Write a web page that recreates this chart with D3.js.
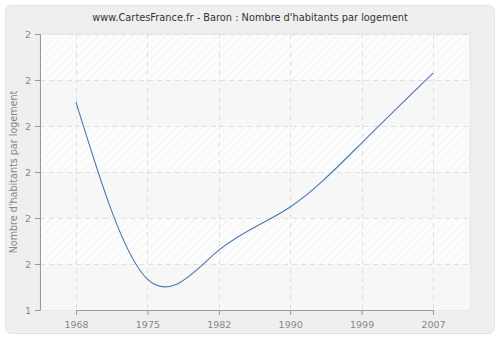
<!DOCTYPE html>
<html>
<head>
<meta charset="utf-8">
<script src="https://cdn.jsdelivr.net/npm/d3@7"></script>
<style>
  body { margin: 0; background: #fff; }
  svg { display: block; font-family: "DejaVu Sans", Verdana, sans-serif; }
</style>
</head>
<body>
<div id="chart"></div>
<script>
// data
var years = ["1968", "1975", "1982", "1990", "1999", "2007"];
var values = [1.852, 1.467, 1.530, 1.624, 1.763, 1.915];
var yTicks = [1.4, 1.5, 1.6, 1.7, 1.8, 1.9, 2.0];

var W = 500, H = 340;
var margin = {top: 34, right: 30, bottom: 30, left: 40},
    width = W - margin.left - margin.right,
    height = H - margin.top - margin.bottom;

var svg = d3.select("#chart")
  .append("svg")
    .attr("width", W)
    .attr("height", H);

var defs = svg.append("defs");
var pat = defs.append("pattern")
    .attr("id", "hatch")
    .attr("patternUnits", "userSpaceOnUse")
    .attr("width", 6).attr("height", 6)
    .attr("patternTransform", "rotate(45)");
pat.append("rect").attr("width", 6).attr("height", 6).attr("fill", "#fcfcfc");
pat.append("line")
    .attr("x1", 0).attr("y1", 0).attr("x2", 0).attr("y2", 6)
    .attr("stroke", "#ececec").attr("stroke-width", 1);

// outer panel
svg.append("rect")
    .attr("x", 5.5).attr("y", 5.5)
    .attr("width", 489).attr("height", 328)
    .attr("rx", 6)
    .attr("fill", "#efefef")
    .attr("stroke", "#e4e4e4");

svg.append("text")
    .attr("x", W / 2).attr("y", 21)
    .attr("text-anchor", "middle")
    .attr("font-size", 9.8)
    .attr("fill", "#333")
    .text("www.CartesFrance.fr - Baron : Nombre d'habitants par logement");

var g = svg.append("g")
    .attr("transform", "translate(" + margin.left + "," + margin.top + ")");

var x = d3.scalePoint()
    .domain(years)
    .range([36, width - 37]);

var y = d3.scaleLinear()
    .domain([1.4, 2.0])
    .range([height, 0]);

// plot background with alternate bands
g.append("rect")
    .attr("width", width).attr("height", height)
    .attr("fill", "url(#hatch)")
    .attr("stroke", "#e2e2e2");

g.selectAll(".band")
  .data(d3.range(0, yTicks.length - 1).filter(i => i % 2 == 0))
  .enter()
  .append("rect")
    .attr("x", 0)
    .attr("width", width)
    .attr("y", i => y(yTicks[i + 1]))
    .attr("height", i => y(yTicks[i]) - y(yTicks[i + 1]))
    .attr("fill", "#f7f7f7");

// grid
g.selectAll(".hgrid")
  .data(yTicks.slice(1))
  .enter()
  .append("line")
    .attr("x1", 0).attr("x2", width)
    .attr("y1", d => Math.round(y(d)) + 0.5)
    .attr("y2", d => Math.round(y(d)) + 0.5)
    .attr("stroke", "#e0e0e0")
    .attr("stroke-dasharray", "5,4");

g.selectAll(".vgrid")
  .data(years)
  .enter()
  .append("line")
    .attr("x1", d => Math.round(x(d)) + 0.5)
    .attr("x2", d => Math.round(x(d)) + 0.5)
    .attr("y1", 0).attr("y2", height)
    .attr("stroke", "#e0e0e0")
    .attr("stroke-dasharray", "5,4");

// axes
var xAxis = g.append("g")
    .attr("transform", "translate(0," + height + ")")
    .call(d3.axisBottom(x).tickSize(5).tickSizeOuter(0).tickPadding(6));

var yAxis = g.append("g")
    .call(d3.axisLeft(y).tickValues(yTicks).tickFormat(d3.format(".0f")).tickSize(5).tickSizeOuter(0).tickPadding(4));

[xAxis, yAxis].forEach(function(a) {
  a.select(".domain").attr("stroke", "#999");
  a.selectAll(".tick line").attr("stroke", "#999");
  a.selectAll(".tick text")
    .attr("fill", "#888")
    .attr("font-size", 9.5)
    .attr("font-family", "DejaVu Sans, Verdana, sans-serif");
});

// line
var line = d3.line()
    .x((d, i) => x(years[i]))
    .y(d => y(d))
    .curve(d3.curveNatural);

g.append("path")
    .datum(values)
    .attr("fill", "none")
    .attr("stroke", "#4a78b0")
    .attr("stroke-width", 1.1)
    .attr("d", line);

svg.append("text")
    .attr("transform", "rotate(-90)")
    .attr("x", -(margin.top + height / 2))
    .attr("y", 17)
    .attr("text-anchor", "middle")
    .attr("font-size", 9.6)
    .attr("fill", "#888")
    .text("Nombre d'habitants par logement");
</script>
</body>
</html>
